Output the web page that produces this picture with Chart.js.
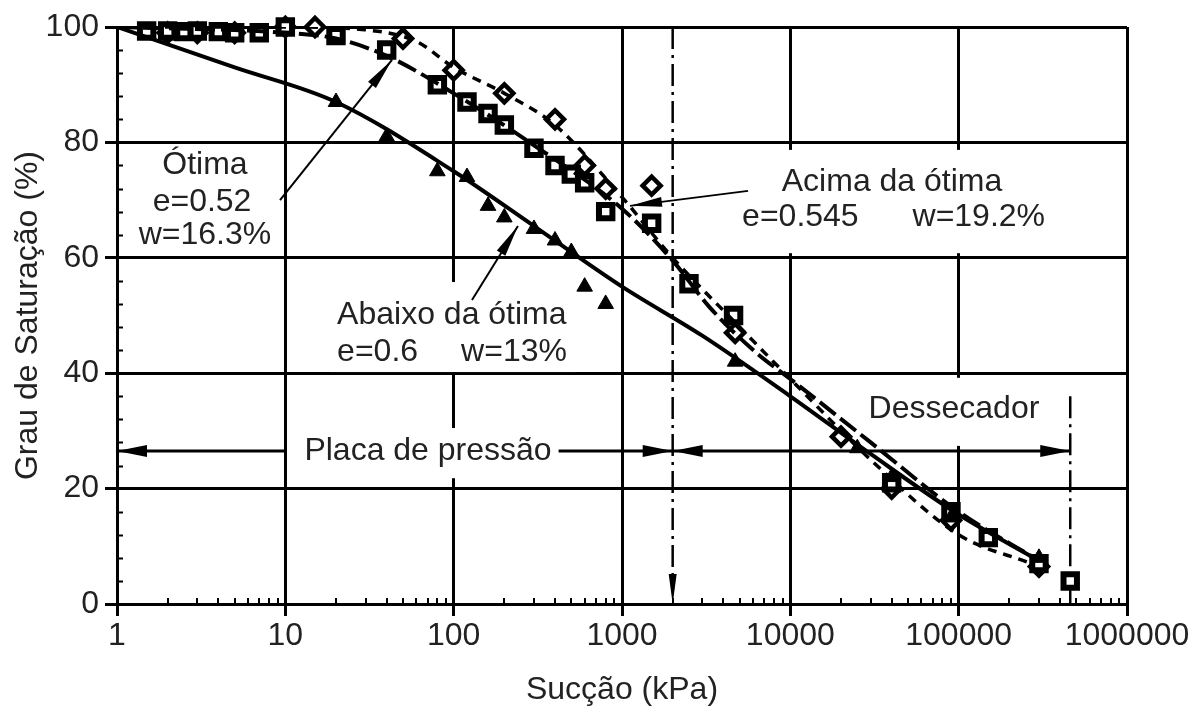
<!DOCTYPE html>
<html>
<head>
<meta charset="utf-8">
<script src="https://cdn.jsdelivr.net/npm/chart.js@4"></script>
<style>
  body { margin: 0; background: #fff; }
</style>
</head>
<body>
<canvas id="myChart" width="1190" height="713"></canvas>
<script>
const xTicks = [1, 10, 100, 1000, 10000, 100000, 1000000];
const yTicks = [0, 20, 40, 60, 80, 100];

// measured points (kPa, %)
const acimaX = [2, 3, 5, 10, 15, 50, 100, 200, 400, 600, 800, 1500, 4700, 20000, 40000, 90000, 300000];
const acimaY = [99, 99, 99, 100, 100, 98, 92.5, 88.5, 84, 76, 72, 72.5, 47, 29, 20, 14.5, 6.5];

const otimaX = [1.5, 2, 2.5, 3, 4, 5, 7, 10, 20, 40, 80, 120, 160, 200, 300, 400, 500, 600, 800, 1500, 2500, 4600, 40000, 90000, 150000, 300000, 460000];
const otimaY = [99.3, 99.3, 99.2, 99.3, 99.2, 99, 99, 100, 98.5, 96, 90, 87, 85, 83, 79, 76, 74.5, 73, 68, 66, 55.5, 50, 21, 16, 11.5, 7, 4];

const abaixoX = [20, 40, 80, 120, 160, 200, 300, 400, 500, 600, 800, 4700, 25000, 40000, 90000, 300000];
const abaixoY = [87, 81, 75, 74, 69, 67, 65, 63, 61, 55, 52, 42, 27, 22, 15, 8];

// fitted curves
const acimaFitX = [1, 10, 30, 60, 100, 200, 400, 1000, 2000, 5000, 10000, 30000, 100000, 270000];
const acimaFitY = [100, 100, 99.5, 97.5, 93, 88.5, 83, 70.5, 60, 48, 39, 25, 12, 7];

const otimaFitX = [1, 10, 20, 40, 100, 300, 1000, 2000, 3300, 6300, 10000, 30000, 100000, 300000];
const otimaFitY = [100, 99, 98, 95, 88.5, 79.5, 68.5, 59.5, 51.5, 43.5, 39, 28, 16, 7.5];

const abaixoFitX = [1, 5, 20, 100, 300, 1000, 3000, 10000, 30000, 100000, 300000];
const abaixoFitY = [100, 93, 87, 75, 65.5, 55, 46.5, 36, 26, 15.5, 7.5];

// limits of the measuring methods
const plateLimit = 2000;
const desiccatorLimit = 460000;
const rangeLevel = 26.5;

const fontFamily = "'Liberation Sans', Arial, sans-serif";
Chart.defaults.font.family = fontFamily;
Chart.defaults.font.size = 32;
Chart.defaults.color = "#222";

function pts(xa, ya) {
    return xa.map((v, i) => ({ x: v, y: ya[i] }));
}

// annotation layout (data units)
const boxes = [
    [10.7, 428, 30.5, 21.8],
    [18.4, 527, 55.8, 40.2],
    [4700, 370000, 78.7, 60.8],
    [22800, 410000, 39.2, 27.4]
];
const texts = [
    ["Ótima", 3.33, 76.1, "center"],
    ["e=0.52", 3.2, 69.7, "center"],
    ["w=16.3%", 3.33, 64, "center"],
    ["Abaixo da ótima", 20.3, 50.1, "left"],
    ["e=0.6", 20.3, 43.7, "left"],
    ["w=13%", 471, 43.7, "right"],
    ["Acima da ótima", 40200, 73.1, "center"],
    ["e=0.545", 5170, 67.1, "left"],
    ["w=19.2%", 326000, 67.1, "right"],
    ["Placa de pressão", 70.4, rangeLevel, "center"],
    ["Dessecador", 93800, 33.8, "center"]
];
const pointers = [
    [9.3, 70, 43, 94.3],
    [128.5, 52.7, 241, 65.5],
    [5610, 71.6, 1116, 69]
];

function arrowHead(ctx, x0, y0, x1, y1, len, half) {
    const a = Math.atan2(y1 - y0, x1 - x0);
    const c = Math.cos(a), s = Math.sin(a);
    ctx.beginPath();
    ctx.moveTo(x1, y1);
    ctx.lineTo(x1 - len * c + half * s, y1 - len * s - half * c);
    ctx.lineTo(x1 - len * c - half * s, y1 - len * s + half * c);
    ctx.closePath();
    ctx.fill();
}

const annotations = {
    id: "annotations",
    beforeDatasetsDraw(chart) {
        const ctx = chart.ctx, xs = chart.scales.x, ys = chart.scales.y;
        const area = chart.chartArea;
        ctx.save();
        ctx.fillStyle = "#fff";
        boxes.forEach(b => {
            const x1 = xs.getPixelForValue(b[0]), x2 = xs.getPixelForValue(b[1]);
            const y1 = ys.getPixelForValue(b[2]), y2 = ys.getPixelForValue(b[3]);
            ctx.fillRect(x1, y1, x2 - x1, y2 - y1);
        });

        // minor ticks
        ctx.strokeStyle = "#000";
        ctx.lineWidth = 2;
        ctx.beginPath();
        for (let v = 4; v < 100; v += 4) {
            if (v % 20 === 0) continue;
            const y = Math.round(ys.getPixelForValue(v)) + 0.5;
            ctx.moveTo(area.left, y);
            ctx.lineTo(area.left + 6, y);
        }
        for (let d = 1; d < 1000000; d *= 10) {
            for (let k = 2; k <= 9; k++) {
                const x = Math.round(xs.getPixelForValue(k * d));
                ctx.moveTo(x, area.bottom);
                ctx.lineTo(x, area.bottom - 6);
            }
        }
        ctx.stroke();

        // dash-dot limits
        ctx.lineWidth = 2.5;
        ctx.setLineDash([22, 6, 3, 6]);
        const xp = xs.getPixelForValue(plateLimit);
        const xd = xs.getPixelForValue(desiccatorLimit);
        ctx.beginPath();
        ctx.moveTo(xp, area.top);
        ctx.lineTo(xp, area.bottom - 20);
        ctx.moveTo(xd, ys.getPixelForValue(36));
        ctx.lineTo(xd, area.bottom);
        ctx.stroke();
        ctx.setLineDash([]);
        ctx.fillStyle = "#000";
        arrowHead(ctx, xp, area.top, xp, area.bottom, 30, 4);
        ctx.restore();
    },
    afterDatasetsDraw(chart) {
        const ctx = chart.ctx, xs = chart.scales.x, ys = chart.scales.y;
        ctx.save();
        ctx.strokeStyle = "#000";
        ctx.fillStyle = "#000";

        // range arrows
        const yr = ys.getPixelForValue(rangeLevel);
        const segs = [
            [10, 1], [420, plateLimit], [20000, plateLimit], [20000, desiccatorLimit]
        ];
        ctx.lineWidth = 3;
        segs.forEach(s => {
            const a = xs.getPixelForValue(s[0]), b = xs.getPixelForValue(s[1]);
            ctx.beginPath();
            ctx.moveTo(a, yr);
            ctx.lineTo(b, yr);
            ctx.stroke();
            arrowHead(ctx, a, yr, b, yr, 30, 6);
        });

        // label pointers
        ctx.lineWidth = 2;
        pointers.forEach(p => {
            const x0 = xs.getPixelForValue(p[0]), y0 = ys.getPixelForValue(p[1]);
            const x1 = xs.getPixelForValue(p[2]), y1 = ys.getPixelForValue(p[3]);
            ctx.beginPath();
            ctx.moveTo(x0, y0);
            ctx.lineTo(x1, y1);
            ctx.stroke();
            arrowHead(ctx, x0, y0, x1, y1, 32, 5);
        });

        ctx.fillStyle = "#222";
        ctx.font = "32px " + fontFamily;
        ctx.textBaseline = "middle";
        texts.forEach(t => {
            ctx.textAlign = t[3];
            ctx.fillText(t[0], xs.getPixelForValue(t[1]), ys.getPixelForValue(t[2]));
        });
        ctx.restore();
    }
};

const lineStyle = {
    showLine: true,
    borderColor: "#000",
    pointRadius: 0,
    cubicInterpolationMode: "monotone"
};

const config = {
    type: "scatter",
    data: {
        datasets: [
            Object.assign({ label: "Abaixo fit", data: pts(abaixoFitX, abaixoFitY), borderWidth: 4 }, lineStyle),
            Object.assign({ label: "Ótima fit", data: pts(otimaFitX, otimaFitY), borderWidth: 4, borderDash: [20, 6] }, lineStyle),
            Object.assign({ label: "Acima fit", data: pts(acimaFitX, acimaFitY), borderWidth: 3.5, borderDash: [9, 7] }, lineStyle),
            {
                label: "Abaixo da ótima",
                data: pts(abaixoX, abaixoY),
                pointStyle: "triangle",
                pointRadius: 9,
                backgroundColor: "#000",
                borderColor: "#000",
                borderWidth: 1,
                clip: false
            },
            {
                label: "Ótima",
                data: pts(otimaX, otimaY),
                pointStyle: "rect",
                pointRadius: 9.5,
                backgroundColor: "#fff",
                borderColor: "#000",
                borderWidth: 6,
                clip: false
            },
            {
                label: "Acima da ótima",
                data: pts(acimaX, acimaY),
                pointStyle: "rectRot",
                pointRadius: 9,
                backgroundColor: "#fff",
                borderColor: "#000",
                borderWidth: 4.5,
                clip: false
            }
        ]
    },
    options: {
        responsive: false,
        animation: false,
        devicePixelRatio: 1,
        layout: {
            padding: { top: 27, right: 63, left: 0, bottom: 0 }
        },
        plugins: {
            legend: { display: false },
            tooltip: { enabled: false }
        },
        scales: {
            x: {
                type: "logarithmic",
                min: 1,
                max: 1000000,
                afterBuildTicks: scale => {
                    scale.ticks = xTicks.map(v => ({ value: v }));
                },
                afterFit: scale => {
                    scale.height = 109;
                    scale.paddingLeft = 0;
                    scale.paddingRight = 0;
                },
                ticks: {
                    autoSkip: false,
                    maxRotation: 0,
                    padding: 1,
                    callback: value => String(value)
                },
                grid: {
                    color: "#000",
                    lineWidth: 3,
                    tickLength: 12
                },
                border: { color: "#000", width: 3 },
                title: {
                    display: true,
                    text: "Sucção (kPa)",
                    padding: { top: 0, bottom: 4 }
                }
            },
            y: {
                min: 0,
                max: 100,
                afterBuildTicks: scale => {
                    scale.ticks = yTicks.map(v => ({ value: v }));
                },
                afterFit: scale => {
                    scale.width = 117;
                },
                ticks: {
                    padding: 6
                },
                grid: {
                    color: "#000",
                    lineWidth: 3,
                    tickLength: 12
                },
                border: { color: "#000", width: 3 },
                title: {
                    display: true,
                    text: "Grau de Saturação (%)",
                    padding: { top: 9, bottom: 0 }
                }
            }
        }
    },
    plugins: [annotations]
};

const myChart = new Chart(document.getElementById("myChart"), config);
</script>
</body>
</html>
